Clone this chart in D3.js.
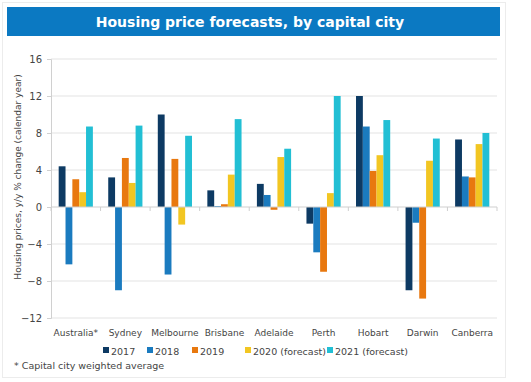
<!DOCTYPE html>
<html>
<head>
<meta charset="utf-8">
<script src="https://cdn.jsdelivr.net/npm/d3@7"></script>
<style>
  body { margin: 0; background: #fff; }
  text { font-family: "DejaVu Sans", Verdana, sans-serif; }
</style>
</head>
<body>
<script>
// ---------------------------------------------------- data ----------------------------------------------------//
var cities = ["Australia*", "Sydney", "Melbourne", "Brisbane", "Adelaide", "Perth", "Hobart", "Darwin", "Canberra"];
var seriesNames = ["2017", "2018", "2019", "2020 (forecast)", "2021 (forecast)"];
var seriesColors = ["#0d3a63", "#1b7bbf", "#e8780f", "#f2c622", "#22bfd4"];

var v2017 = [4.4, 3.2, 10.0, 1.8, 2.5, -1.8, 12.0, -9.0, 7.3];
var v2018 = [-6.2, -9.0, -7.3, 0.1, 1.3, -4.9, 8.7, -1.7, 3.3];
var v2019 = [3.0, 5.3, 5.2, 0.3, -0.3, -7.0, 3.9, -9.9, 3.2];
var v2020 = [1.6, 2.6, -1.9, 3.5, 5.4, 1.5, 5.6, 5.0, 6.8];
var v2021 = [8.7, 8.8, 7.7, 9.5, 6.3, 12.0, 9.4, 7.4, 8.0];

var yTicks = [16, 12, 8, 4, 0, -4, -8, -12];

var series = [v2017, v2018, v2019, v2020, v2021];

var width = 531,
  height = 382;

var svg = d3.select("body").append("svg")
  .attr("width", width)
  .attr("height", height);

// faint frame
svg.append("rect")
  .attr("x", 2.5).attr("y", 2.5)
  .attr("width", 503).attr("height", 375)
  .attr("fill", "none")
  .attr("stroke", "#ececec");

// ---------------------------------------------------- title bar ----------------------------------------------------//
svg.append("rect")
  .attr("x", 7).attr("y", 7)
  .attr("width", 493).attr("height", 29)
  .attr("fill", "#0b79c2");

svg.append("text")
  .attr("x", 250).attr("y", 27)
  .attr("text-anchor", "middle")
  .attr("fill", "#fff")
  .attr("font-size", 14)
  .attr("font-weight", "bold")
  .text("Housing price forecasts, by capital city");

// ---------------------------------------------------- scales ----------------------------------------------------//
var plotLeft = 51, plotRight = 497;

var y = d3.scaleLinear().domain([-12, 16]).range([318, 59]);

var x0 = d3.scaleBand()
  .domain(cities)
  .range([plotLeft, plotRight])
  .paddingInner(0.31)
  .paddingOuter(0.155);

var x1 = d3.scaleBand()
  .domain(d3.range(seriesNames.length))
  .range([0, x0.bandwidth()]);

// gridlines
svg.append("g")
  .selectAll("line")
  .data(yTicks.filter(function (d) { return d !== 0; }))
  .enter()
  .append("line")
  .attr("x1", plotLeft).attr("x2", plotRight)
  .attr("y1", function (d) { return y(d); })
  .attr("y2", function (d) { return y(d); })
  .attr("stroke", "#e3e3e3");

// y axis
var yAxis = svg.append("g")
  .attr("transform", "translate(" + plotLeft + ",0)")
  .call(d3.axisLeft(y).tickValues(yTicks).tickSize(4).tickPadding(5));
yAxis.select(".domain").attr("stroke", "#d0d0d0");
yAxis.selectAll(".tick line").attr("stroke", "#d0d0d0");
yAxis.selectAll(".tick text")
  .attr("fill", "#444")
  .attr("font-size", 10)
  .style("font-family", "'DejaVu Sans', Verdana, sans-serif");

svg.append("text")
  .attr("transform", "translate(21,177) rotate(-90)")
  .attr("text-anchor", "middle")
  .attr("fill", "#444")
  .attr("font-size", 9)
  .text("Housing prices, y/y % change (calendar year)");

// ---------------------------------------------------- bars ----------------------------------------------------//
var groups = svg.append("g")
  .selectAll("g")
  .data(cities)
  .enter()
  .append("g")
  .attr("transform", function (d) { return "translate(" + x0(d) + ",0)"; });

groups.selectAll("rect")
  .data(function (d, i) {
    return series.map(function (s, k) { return { k: k, value: s[i] }; });
  })
  .enter()
  .append("rect")
  .attr("x", function (d) { return x1(d.k); })
  .attr("width", x1.bandwidth())
  .attr("y", function (d) { return y(Math.max(0, d.value)); })
  .attr("height", function (d) { return Math.abs(y(d.value) - y(0)); })
  .attr("fill", function (d) { return seriesColors[d.k]; });

// zero line with category ticks
svg.append("line")
  .attr("x1", plotLeft).attr("x2", plotRight)
  .attr("y1", y(0)).attr("y2", y(0))
  .attr("stroke", "#cfcfcf");

var step = x0.step();
svg.append("g")
  .selectAll("line")
  .data(d3.range(cities.length + 1))
  .enter()
  .append("line")
  .attr("x1", function (i) { return plotLeft + i * step; })
  .attr("x2", function (i) { return plotLeft + i * step; })
  .attr("y1", y(0)).attr("y2", y(0) + 4)
  .attr("stroke", "#cfcfcf");

// category labels
svg.append("g")
  .selectAll("text")
  .data(cities)
  .enter()
  .append("text")
  .attr("x", function (d) { return x0(d) + x0.bandwidth() / 2; })
  .attr("y", 336)
  .attr("text-anchor", "middle")
  .attr("fill", "#444")
  .attr("font-size", 9)
  .text(function (d) { return d; });

// ---------------------------------------------------- legend ----------------------------------------------------//
var legendX = [103, 147, 192, 245, 327];
var legend = svg.append("g")
  .selectAll("g")
  .data(seriesNames)
  .enter()
  .append("g")
  .attr("transform", function (d, i) { return "translate(" + legendX[i] + ",345)"; });

legend.append("rect")
  .attr("width", 6).attr("height", 6)
  .attr("y", 2)
  .attr("fill", function (d, i) { return seriesColors[i]; });

legend.append("text")
  .attr("x", 8).attr("y", 10)
  .attr("fill", "#444")
  .attr("font-size", 9.5)
  .text(function (d) { return d; });

svg.append("text")
  .attr("x", 14).attr("y", 369)
  .attr("fill", "#444")
  .attr("font-size", 9.5)
  .text("* Capital city weighted average");
</script>
</body>
</html>
